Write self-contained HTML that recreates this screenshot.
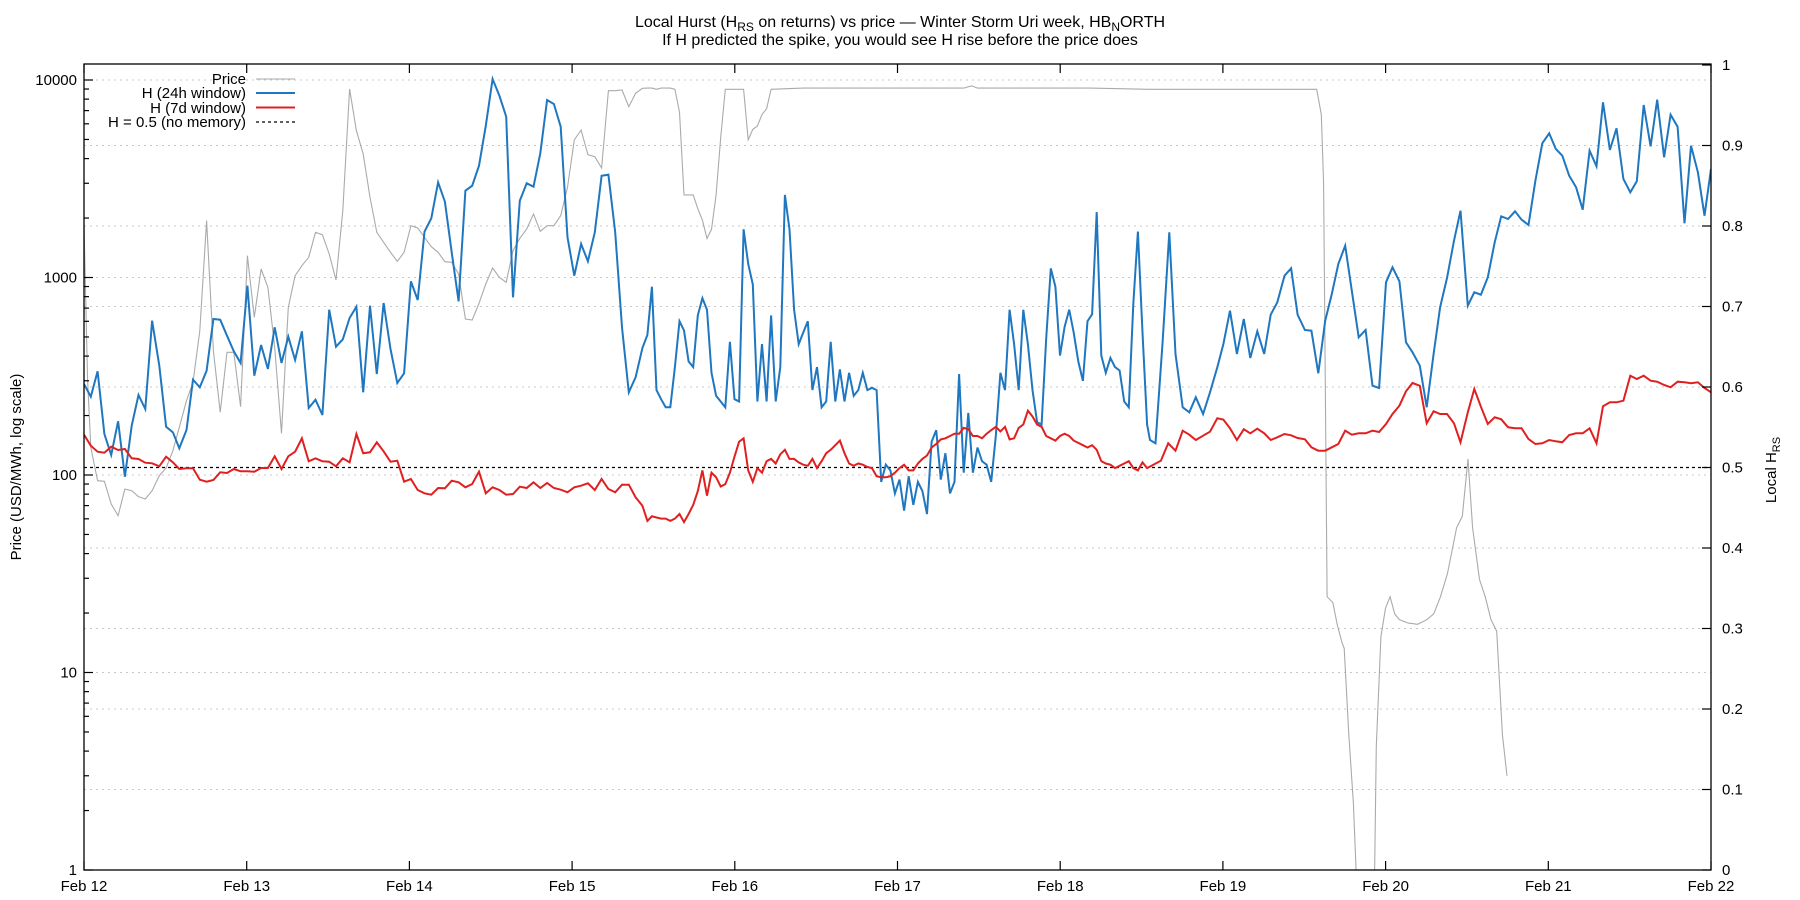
<!DOCTYPE html>
<html><head><meta charset="utf-8"><style>
html,body{margin:0;padding:0;background:#fff}
svg{display:block}
text{font-family:"Liberation Sans",Arial,sans-serif;fill:#000}
</style></head><body>
<svg id="s" width="1800" height="900" viewBox="0 0 1800 900" xmlns="http://www.w3.org/2000/svg">
<defs><clipPath id="c"><rect x="84" y="64" width="1627" height="806"/></clipPath></defs>
<g id="grid"></g>
<g clip-path="url(#c)">
<line x1="84" x2="1711" y1="467.5" y2="467.5" stroke="#000" stroke-width="1.2" stroke-dasharray="3,3"/>
<polyline id="pg" fill="none" stroke="#aaaaaa" stroke-width="1.1"/>
<polyline id="pb" fill="none" stroke="#1f77c0" stroke-width="2"/>
<polyline id="pr" fill="none" stroke="#e02020" stroke-width="2"/>
</g>
<rect x="84" y="64" width="1627" height="806" fill="none" stroke="#000" stroke-width="1.3"/>
<g id="ticks" stroke="#000" stroke-width="1.2"></g>
<g id="labels" font-size="15"></g>
<text x="900" y="27" font-size="16" text-anchor="middle">Local Hurst (H<tspan font-size="12" dy="4">RS</tspan><tspan dy="-4"> on returns) vs price — Winter Storm Uri week, HB</tspan><tspan font-size="12" dy="4">N</tspan><tspan dy="-4">ORTH</tspan></text>
<text x="900" y="45" font-size="16" text-anchor="middle">If H predicted the spike, you would see H rise before the price does</text>
<text transform="translate(21,467) rotate(-90)" font-size="15" text-anchor="middle">Price (USD/MWh, log scale)</text>
<text transform="translate(1776,470) rotate(-90)" font-size="15" text-anchor="middle">Local H<tspan font-size="11" dy="4">RS</tspan></text>
<g font-size="15" text-anchor="end">
<text x="246" y="84">Price</text>
<text x="246" y="98">H (24h window)</text>
<text x="246" y="113">H (7d window)</text>
<text x="246" y="127">H = 0.5 (no memory)</text>
</g>
<line x1="256" x2="295" y1="79" y2="79" stroke="#aaaaaa" stroke-width="1.1"/>
<line x1="256" x2="295" y1="93" y2="93" stroke="#1f77c0" stroke-width="2"/>
<line x1="256" x2="295" y1="107.5" y2="107.5" stroke="#e02020" stroke-width="2"/>
<line x1="256" x2="295" y1="122" y2="122" stroke="#000" stroke-width="1.2" stroke-dasharray="3,3"/>
</svg>
<script>
(function(){
var NS="http://www.w3.org/2000/svg";
function el(p,t,a,txt){var e=document.createElementNS(NS,t);for(var k in a)e.setAttribute(k,a[k]);if(txt!=null)e.textContent=txt;p.appendChild(e);return e;}
var grid=document.getElementById('grid'),ticks=document.getElementById('ticks'),labels=document.getElementById('labels');
function ly(v){return 870-197.5*Math.log10(v);}
function hy(h){return 870-805*h;}
[10,100,1000,10000].forEach(function(v){el(grid,'line',{x1:84,x2:1711,y1:ly(v),y2:ly(v),stroke:'#c8c8c8','stroke-width':1,'stroke-dasharray':'2,4'});});
for(var i=1;i<=9;i++){var y=hy(i/10);el(grid,'line',{x1:84,x2:1711,y1:y,y2:y,stroke:'#c8c8c8','stroke-width':1,'stroke-dasharray':'2,4'});}
[1,10,100,1000,10000].forEach(function(v){var y=ly(v);el(ticks,'line',{x1:84,x2:93,y1:y,y2:y});el(labels,'text',{x:77,y:y+5,'text-anchor':'end'},String(v));
 if(v<10000||true){for(var k=2;k<=9;k++){var yy=ly(v*k);if(yy>=64)el(ticks,'line',{x1:84,x2:89,y1:yy,y2:yy});}}});
for(var i=0;i<=10;i++){var y=hy(i/10);el(ticks,'line',{x1:1702,x2:1711,y1:y,y2:y});el(labels,'text',{x:1722,y:y+5},i==0?'0':(i==10?'1':(i/10).toFixed(1)));}
for(var d=0;d<=10;d++){var x=84+162.7*d;el(ticks,'line',{x1:x,x2:x,y1:870,y2:861});el(ticks,'line',{x1:x,x2:x,y1:64,y2:73});el(labels,'text',{x:x,y:891,'text-anchor':'middle'},'Feb '+(12+d));}
function z5(a){var r=[];for(var i=0;i<a.length;i+=2)r.push([84+a[i]/2.79,64+a[i+1]/3]);return r;}
function pp(a){var r=[];for(var i=0;i<a.length;i+=2)r.push([0.9+1.1462*a[i],-0.3+1.1481*a[i+1]]);return r;}
function z3(a){var r=[];for(var i=0;i<a.length;i+=2)r.push([1150+a[i]*561/1543,64+a[i+1]/3]);return r;}
function set(id,pts){document.getElementById(id).setAttribute('points',pts.map(function(p){return p[0].toFixed(1)+','+p[1].toFixed(1);}).join(' '));}
var g5=[0,480,10,950,19,1150,38,1250,57,1252,76,1320,95,1355,114,1275,133,1280,152,1298,171,1305,190,1280,210,1235,229,1212,248,1160,266,1090,286,1010,304,955,323,800,342,470,361,860,380,1045,399,865,418,865,437,1028,456,575,475,760,494,615,513,670,532,850,551,1108,570,730,589,635,608,605,627,580,646,505,665,512,684,570,703,648,722,440,741,75,760,200,779,270,798,400,817,505,836,535,855,565,874,592,893,565,912,485,931,492,950,520,969,548,988,565,1007,593,1026,595,1045,630,1064,765,1083,768,1102,718,1121,660,1140,612,1159,640,1178,655,1197,560,1216,523,1235,495,1254,450,1273,502,1292,485,1311,485,1330,455,1349,370,1368,228,1387,198,1406,272,1425,278,1444,312,1463,80,1482,80,1501,78,1520,128,1539,88,1558,73];
var gp=[564,77,568,77,572,78,576,77,580,77,584,77,588,78,592,98,596,170,600,170,604,170,608,182,612,192,616,208,620,200,624,170,628,120,632,78,636,78,640,78,644,78,648,78,652,122,656,113,660,110,664,100,668,95,672,78,700,77,760,77,800,77,840,77,847,75,852,77,900,77,950,77,1000,78,1050,78,1100,78,1148,78,1152,100,1154,160,1157,520,1162,525,1166,545,1170,560,1172,565,1176,640,1180,700,1184,800,1198,800,1200,650,1204,555,1208,530,1212,520,1216,535,1220,540,1228,543,1236,544,1244,540,1250,535,1256,520,1262,500,1266,480,1270,460,1275,450,1280,400,1284,460,1290,505,1295,520,1300,540,1305,550,1310,640,1314,676];
set('pg',z5(g5).concat(pp(gp)));
var b5=[0,960,19,998,38,922,57,1110,76,1173,95,1072,114,1238,133,1085,152,993,171,1035,190,770,210,905,229,1088,248,1105,266,1153,286,1098,304,947,323,970,342,920,361,765,380,767,399,815,418,862,437,897,456,665,475,935,494,843,513,915,532,790,551,897,570,818,589,888,608,802,627,1032,646,1007,665,1053,684,737,703,848,722,826,741,762,760,728,779,985,798,725,817,930,836,717,855,855,874,957,893,928,912,652,931,708,950,503,969,463,988,355,1007,413,1026,565,1045,712,1064,380,1083,365,1102,305,1121,185,1140,45,1159,95,1178,158,1197,700,1216,410,1235,358,1254,368,1273,268,1292,108,1311,120,1330,188,1349,520,1368,635,1387,540,1406,592,1425,505,1444,335,1463,332,1482,505,1501,790,1520,985,1539,940,1558,852];
var bp=[564,292,568,250,572,340,576,348,580,355,584,355,588,320,592,280,596,288,600,315,604,320,608,275,612,260,616,270,620,325,624,345,628,350,632,355,636,298,640,348,644,350,648,200,652,230,656,248,660,350,664,300,668,350,672,275,676,350,680,320,684,170,688,200,692,270,696,300,700,290,704,280,708,340,712,320,716,355,720,350,724,298,728,350,732,322,736,350,740,325,744,345,748,340,752,325,756,340,760,338,764,340,768,420,772,405,776,410,780,430,784,418,788,445,792,415,796,440,800,420,804,428,808,448,812,385,816,375,820,418,824,395,828,430,832,420,836,326,840,412,844,360,848,412,852,390,856,402,860,405,864,420,868,380,872,325,876,340,880,270,884,300,888,340,892,270,896,300,900,340,904,368,908,370,912,295,916,234,920,250,924,310,928,285,932,270,936,290,940,315,944,332,948,280,952,274,956,185,960,310,964,325,968,312,972,320,976,323,980,350,984,355,988,265,992,202,996,290,1000,370];
var b3=[0,1128,15,1138,35,830,53,505,70,870,90,1030,108,1045,126,1000,146,1050,165,985,185,910,202,840,220,740,239,870,258,765,276,882,295,802,314,870,332,752,350,715,370,635,388,613,406,752,426,798,444,800,463,928,482,770,500,690,518,600,537,545,555,680,574,820,593,798,612,965,630,972,649,655,667,610,686,652,704,835,722,865,742,905,761,1030,780,870,798,730,817,642,836,530,854,440,874,725,892,685,910,692,929,640,948,535,966,457,985,465,1004,442,1022,467,1041,483,1060,350,1079,238,1098,208,1116,255,1134,275,1153,335,1172,370,1190,437,1209,260,1228,307,1246,115,1265,258,1283,193,1302,345,1321,385,1339,352,1358,123,1377,247,1395,107,1414,280,1432,152,1451,188,1470,478,1488,245,1507,325,1525,455,1543,315];
set('pb',z5(b5).concat(pp(bp)).concat(z3(b3)));
var r5=[0,1112,19,1145,38,1163,57,1166,76,1148,95,1158,114,1155,133,1183,152,1185,171,1196,190,1198,210,1207,229,1178,248,1195,266,1215,286,1213,304,1213,323,1247,342,1253,361,1248,380,1225,399,1227,418,1215,437,1222,456,1222,475,1223,494,1212,513,1212,532,1177,551,1215,570,1177,589,1163,608,1123,627,1192,646,1183,665,1192,684,1193,703,1207,722,1183,741,1195,760,1110,779,1168,798,1165,817,1135,836,1162,855,1193,874,1190,893,1253,912,1245,931,1278,950,1288,969,1292,988,1272,1007,1273,1026,1250,1045,1255,1064,1270,1083,1260,1102,1223,1121,1288,1140,1270,1159,1278,1178,1292,1197,1290,1216,1268,1235,1272,1254,1255,1273,1272,1292,1257,1311,1272,1330,1277,1349,1285,1368,1270,1387,1265,1406,1258,1425,1278,1444,1245,1463,1275,1482,1285,1501,1262,1520,1262,1539,1300,1558,1325];
var rp=[564,454,568,450,572,451,576,452,580,452,584,454,588,452,592,448,596,455,600,448,604,440,608,428,612,410,616,432,620,412,624,416,628,424,632,422,636,412,640,398,644,385,648,382,652,410,656,420,660,408,664,412,668,402,672,400,676,404,680,396,684,392,688,400,692,400,696,403,700,405,704,406,708,400,712,408,716,402,720,395,724,392,728,388,732,384,736,395,740,404,744,406,748,404,752,405,756,407,760,408,764,415,768,416,772,416,776,415,780,412,784,408,788,405,792,410,796,410,800,404,804,400,808,397,812,390,816,387,820,383,824,382,828,380,832,378,836,378,840,373,844,374,848,380,852,380,856,382,860,378,864,375,868,372,872,376,876,372,880,383,884,382,888,373,892,370,896,358,900,363,904,370,908,372,912,380,916,382,920,384,924,380,928,378,932,380,936,384,940,386,944,388,948,390,952,388,956,392,960,402,964,404,968,405,972,408,976,406,980,404,984,402,988,408,992,410,996,403,1000,408];
var r3=[30,1190,50,1138,70,1160,90,1100,108,1112,126,1128,146,1115,165,1103,185,1063,202,1067,220,1093,239,1128,258,1096,276,1108,295,1094,314,1108,332,1128,350,1120,370,1110,388,1114,406,1122,426,1126,444,1150,463,1160,482,1160,500,1150,518,1140,537,1100,555,1112,574,1108,593,1108,612,1100,630,1104,649,1080,667,1050,686,1025,704,982,722,957,742,965,761,1078,780,1042,798,1050,817,1050,836,1078,854,1135,874,1045,892,975,910,1028,929,1080,948,1060,966,1066,985,1090,1004,1093,1022,1093,1041,1125,1060,1140,1079,1138,1098,1128,1116,1132,1134,1135,1153,1113,1172,1108,1190,1108,1209,1093,1228,1138,1246,1027,1265,1015,1283,1015,1302,1010,1321,935,1339,945,1358,935,1377,950,1395,953,1414,963,1432,970,1451,953,1470,955,1488,958,1507,955,1525,972,1543,985];
set('pr',z5(r5).concat(pp(rp)).concat(z3(r3)));
})();
</script>
</body></html>
